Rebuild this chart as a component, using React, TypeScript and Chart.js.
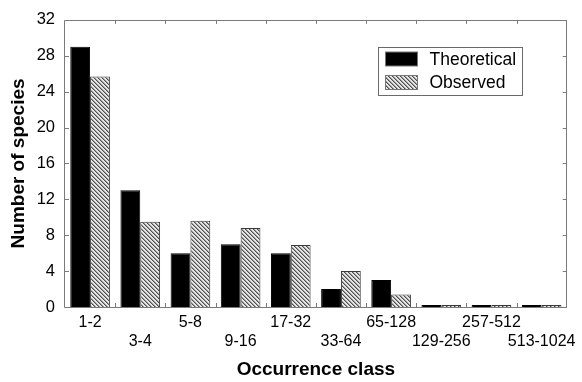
import React, { useEffect, useRef } from "react";
import { Chart, registerables } from "chart.js";

Chart.register(...registerables);

// Occurrence classes (log2 bins) and species counts per class
const categories = ["1-2", "3-4", "5-8", "9-16", "17-32", "33-64", "65-128", "129-256", "257-512", "513-1024"];
const theoretical = [29, 13, 6, 7, 6, 2, 3, 0, 0, 0];
const observed = [25.7, 9.5, 9.6, 8.8, 6.9, 4.0, 1.4, 0, 0, 0];
const yTickValues = [0, 4, 8, 12, 16, 20, 24, 28, 32];
const seriesNames = ["Theoretical", "Observed"];

const FONT = "'Liberation Sans', Arial, sans-serif";

// Diagonal hatch fill used for the observed bars
function makeHatch(): CanvasPattern | string {
  const tile = document.createElement("canvas");
  tile.width = 4;
  tile.height = 4;
  const c = tile.getContext("2d");
  if (!c) return "#aaaaaa";
  c.fillStyle = "#e6e6e6";
  c.fillRect(0, 0, 4, 4);
  for (let i = 0; i < 4; i++) {
    c.fillStyle = "#505050";
    c.fillRect(i, i, 1, 1);
    c.fillStyle = "#9a9a9a";
    c.fillRect((i + 1) % 4, i, 1, 1);
  }
  const p = c.createPattern(tile, "repeat");
  return p || "#aaaaaa";
}

// Box frame with inward tick marks on all four sides
const framePlugin = {
  id: "frameTicks",
  afterDatasetsDraw(chart: any) {
    const { ctx, chartArea } = chart;
    const { left, right, top, bottom } = chartArea;
    const xs = chart.scales.x;
    const ys = chart.scales.y;
    const tl = 4;
    ctx.save();
    ctx.strokeStyle = "#7a7a7a";
    ctx.lineWidth = 1;
    ctx.beginPath();
    ctx.rect(Math.round(left) - 0.5, Math.round(top) + 0.5, Math.round(right - left), Math.round(bottom - top));
    ctx.stroke();
    ctx.beginPath();
    yTickValues.forEach((v) => {
      const y = Math.round(ys.getPixelForValue(v)) + 0.5;
      ctx.moveTo(left, y);
      ctx.lineTo(left + tl, y);
      ctx.moveTo(right, y);
      ctx.lineTo(right - tl, y);
    });
    const step = (right - left) / categories.length;
    for (let i = 1; i < categories.length; i++) {
      const x = Math.round(xs.getPixelForValue(i) - step / 2) + 0.5;
      ctx.moveTo(x, bottom);
      ctx.lineTo(x, bottom - tl);
      ctx.moveTo(x, top);
      ctx.lineTo(x, top + tl);
    }
    ctx.stroke();
    ctx.restore();
  },
};

// Boxed legend in the upper right of the plot
const legendPlugin = {
  id: "boxedLegend",
  afterDraw(chart: any) {
    const { ctx, chartArea } = chart;
    const w = 144;
    const h = 48;
    const bx = Math.round(chartArea.right - 45 - w) + 0.5;
    const by = Math.round(chartArea.top + 27) + 0.5;
    ctx.save();
    ctx.fillStyle = "#ffffff";
    ctx.fillRect(bx, by, w, h);
    ctx.strokeStyle = "#6a6a6a";
    ctx.lineWidth = 1;
    ctx.strokeRect(bx, by, w, h);
    const rows = [by + 11.5, by + 35];
    chart.data.datasets.forEach((ds: any, i: number) => {
      const cy = rows[i];
      ctx.fillStyle = ds.backgroundColor;
      ctx.fillRect(bx + 7, cy - 7, 32, 14);
      ctx.strokeStyle = "#777777";
      ctx.strokeRect(bx + 7, cy - 7, 32, 14);
      ctx.fillStyle = "#000000";
      ctx.font = `17.5px ${FONT}`;
      ctx.textAlign = "left";
      ctx.textBaseline = "middle";
      ctx.fillText(ds.label, bx + 51, cy + 1);
    });
    ctx.restore();
  },
};

export default function App() {
  const canvasRef = useRef<HTMLCanvasElement | null>(null);

  useEffect(() => {
    const canvas = canvasRef.current;
    if (!canvas) return;
    const hatch = makeHatch();
    const chart = new Chart(canvas, {
      type: "bar",
      data: {
        labels: categories,
        datasets: [
          {
            label: seriesNames[0],
            data: theoretical,
            backgroundColor: "#000000",
            borderColor: "#000000",
            borderWidth: 1,
            minBarLength: 2,
            categoryPercentage: 0.79,
            barPercentage: 1,
          },
          {
            label: seriesNames[1],
            data: observed,
            backgroundColor: hatch as any,
            borderColor: "#3a3a3a",
            borderWidth: 1,
            minBarLength: 2,
            categoryPercentage: 0.79,
            barPercentage: 1,
          },
        ],
      },
      options: {
        responsive: false,
        devicePixelRatio: 1,
        animation: false,
        layout: { padding: { top: 15, right: 11, left: 0, bottom: 0 } },
        plugins: {
          legend: { display: false },
          tooltip: { enabled: false },
        },
        scales: {
          x: {
            type: "category",
            grid: { display: false, drawTicks: false },
            border: { display: false },
            ticks: {
              color: "#000000",
              font: { family: FONT, size: 16 },
              maxRotation: 0,
              minRotation: 0,
              autoSkip: false,
              padding: 6,
              callback: (_v: any, i: number) => (i % 2 === 0 ? categories[i] : ["", categories[i]]),
            },
            title: {
              display: true,
              text: "Occurrence class",
              color: "#000000",
              font: { family: FONT, size: 19, weight: "bold" },
              padding: { top: 0, bottom: 1 },
            },
            afterFit: (s: any) => {
              s.height = 75;
            },
          },
          y: {
            min: 0,
            max: 32,
            grid: { display: false, drawTicks: false },
            border: { display: false },
            ticks: {
              stepSize: 4,
              color: "#000000",
              font: { family: FONT, size: 16.5 },
              padding: 10,
            },
            title: {
              display: true,
              text: "Number of species",
              color: "#000000",
              font: { family: FONT, size: 19, weight: "bold" },
              padding: { top: 7, bottom: 0 },
            },
            afterFit: (s: any) => {
              s.width = 65;
            },
          },
        },
      },
      plugins: [framePlugin, legendPlugin],
    });
    return () => chart.destroy();
  }, []);

  return (
    <div style={{ position: "fixed", left: 0, top: 0, width: 582, height: 382, background: "#ffffff" }}>
      <canvas ref={canvasRef} width={582} height={382} style={{ display: "block" }} />
    </div>
  );
}
